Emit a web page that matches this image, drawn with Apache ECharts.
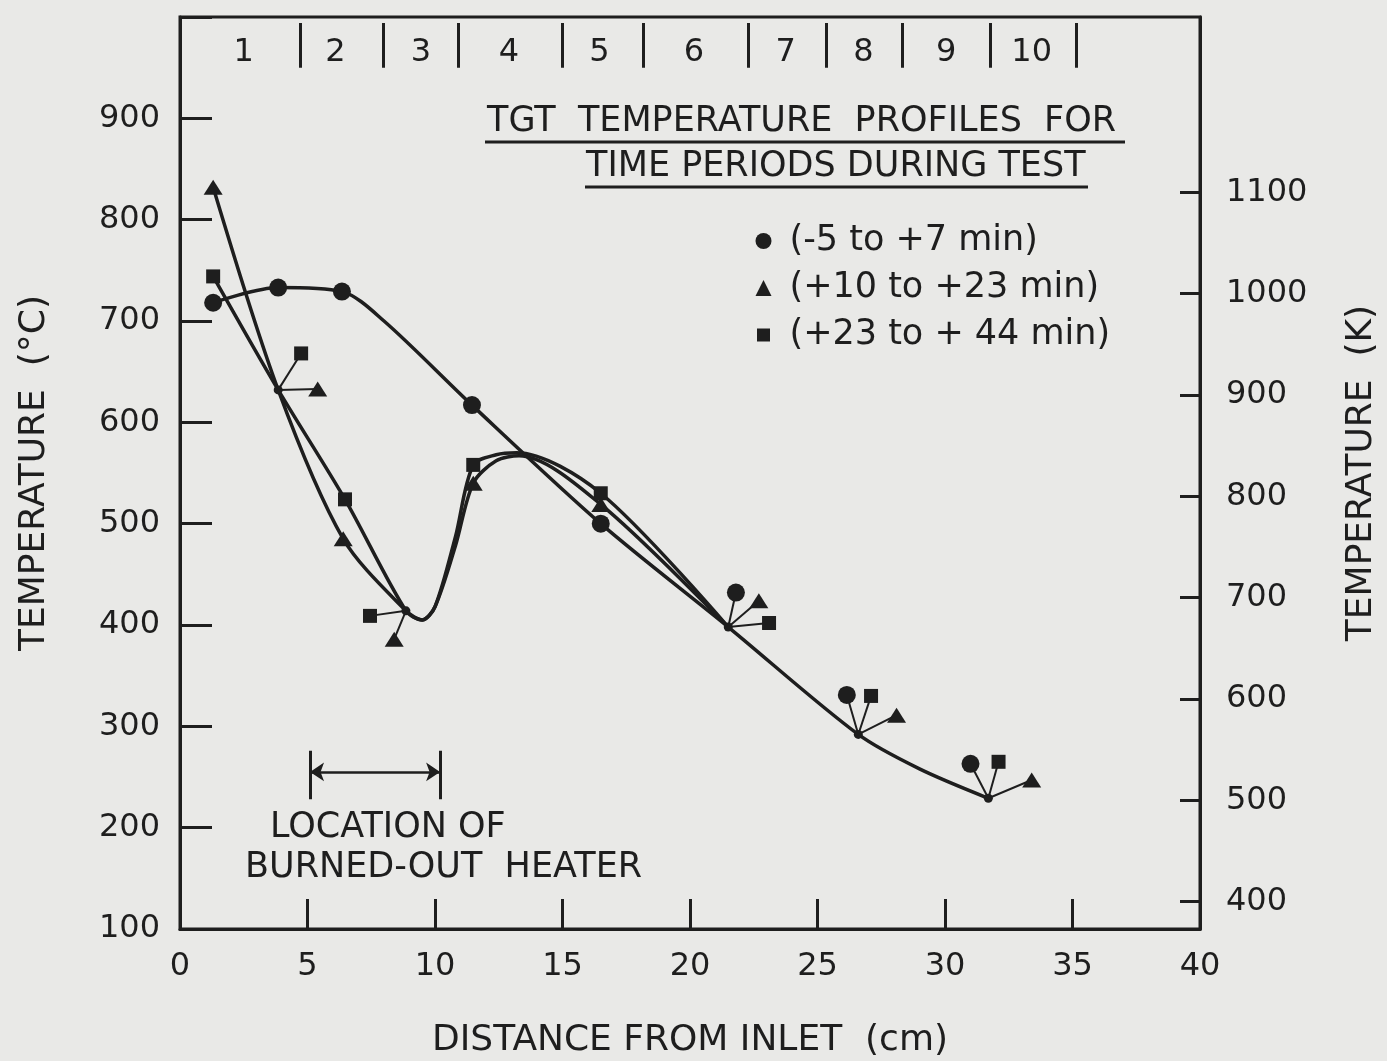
<!DOCTYPE html>
<html>
<head>
<meta charset="utf-8">
<script src="https://cdn.jsdelivr.net/npm/echarts@6/dist/echarts.min.js"></script>
<style>
  html, body { margin: 0; padding: 0; background: #e9e9e7; }
  #chart { width: 1387px; height: 1061px; }
</style>
</head>
<body>
<div id="chart"></div>
<script>
const INK = '#1e1e1e'
const FONT = "'DejaVu Sans', sans-serif"

// heater zones across the top of the plot (cm)
const zoneLabels = ['1', '2', '3', '4', '5', '6', '7', '8', '9', '10']
const zoneLabelX = [2.5, 6.1, 9.45, 12.9, 16.45, 20.15, 23.75, 26.8, 30.05, 33.4]
const zoneEdges = [4.72, 7.96, 10.92, 15.0, 18.16, 22.3, 25.33, 28.32, 31.76, 35.16]

// axis ticks
const xTicks = [0, 5, 10, 15, 20, 25, 30, 35, 40]
const kelvinTicks = [400, 500, 600, 700, 800, 900, 1000, 1100]

// series names
const names = ['(-5 to +7 min)', '(+10 to +23 min)', '(+23 to + 44 min)']

// measured points, [cm, °C]
const circlePts = [[1.3, 718], [3.85, 733], [6.35, 729], [11.45, 617], [16.5, 500]]
const trianglePts = [[1.3, 832], [6.4, 485], [11.5, 540], [16.5, 519]]
const squarePts = [[1.3, 744], [6.47, 524], [11.5, 558], [16.5, 530]]

// where several points coincide the curve gets a small dot
// and the markers are drawn beside it on short leaders
const junctions = [[3.85, 632], [8.86, 414], [21.5, 398], [26.6, 292], [31.7, 229]]
const circleShifted = [[21.8, 432], [26.15, 331], [31.0, 263]]
const circleShiftedAt = [2, 3, 4]
const triangleShifted = [[5.4, 633], [8.4, 386], [22.7, 424], [28.1, 311], [33.4, 247]]
const triangleShiftedAt = [0, 1, 2, 3, 4]
const squareShifted = [[4.75, 668], [7.45, 409], [23.1, 402], [27.1, 330], [32.1, 265]]
const squareShiftedAt = [0, 1, 2, 3, 4]

// faired curves as drawn
const circleCurve = [[1.3, 718], [3.85, 733], [6.35, 729], [8.0, 700], [11.45, 617],
  [16.5, 500], [21.5, 398], [26.6, 292], [29.0, 258], [31.7, 229]]
const triangleCurve = [[1.3, 832], [3.85, 632], [6.4, 485], [8.86, 414], [9.5, 405],
  [10.0, 418], [10.8, 478], [11.5, 540], [12.4, 562], [13.3, 567], [16.5, 519], [21.5, 398]]
const squareCurve = [[1.3, 744], [3.85, 632], [6.47, 524], [8.86, 414], [9.5, 405],
  [10.0, 418], [10.8, 487], [11.5, 558], [12.4, 568], [13.2, 570], [16.5, 530], [21.5, 398]]

// burned-out heater span (cm)
const heaterSpan = [5.1, 10.2]

const chart = echarts.init(document.getElementById('chart'))

const leaders = (pts, at) => pts.map((p, i) => ({ coords: [junctions[at[i]], p] }))

const curve = (data) => ({
  type: 'line',
  data,
  smooth: 0.3,
  showSymbol: false,
  silent: true,
  lineStyle: { color: INK, width: 3.5 },
  z: 3,
})

const txt = { fontFamily: FONT, fontSize: 32, color: INK }
const big = { ...txt, fontSize: 36 }
const mark = { color: INK, opacity: 1 }

chart.setOption({
  backgroundColor: '#e9e9e7',
  animation: false,
  textStyle: txt,
  grid: {
    left: 180, right: 187, top: 17, bottom: 132,
    outerBoundsMode: 'none',
    show: true, borderColor: INK, borderWidth: 3,
  },

  legend: {
    left: 749,
    top: 218,
    orient: 'vertical',
    selectedMode: false,
    itemWidth: 16,
    itemHeight: 16,
    itemGap: 11,
    textStyle: { ...txt, fontSize: 35, lineHeight: 36, padding: [0, 0, 0, 13] },
    data: [
      { name: names[0], icon: 'circle' },
      { name: names[1], icon: 'triangle' },
      { name: names[2], icon: 'rect', itemStyle: { borderWidth: 3, borderColor: '#e9e9e7' } },
    ],
  },

  xAxis: {
    type: 'value',
    min: 0,
    max: 40,
    interval: 5,
    name: 'DISTANCE FROM INLET  (cm)',
    nameLocation: 'middle',
    nameGap: 94,
    nameTextStyle: big,
    splitLine: { show: false },
    axisLine: { lineStyle: { color: INK, width: 3 } },
    axisTick: { inside: true, length: 30, lineStyle: { color: INK, width: 3 } },
    axisLabel: { ...txt, margin: 22, customValues: xTicks },
  },

  yAxis: [
    {
      type: 'value',
      min: 100,
      max: 1000,
      interval: 100,
      name: 'TEMPERATURE  (°C)',
      nameLocation: 'middle',
      nameGap: 127,
      nameRotate: 90,
      nameTextStyle: big,
      splitLine: { show: false },
      axisLine: { show: true, lineStyle: { color: INK, width: 3 } },
      axisTick: { inside: true, length: 32, lineStyle: { color: INK, width: 3 } },
      axisLabel: { ...txt, margin: 20, formatter: (v) => (v >= 1000 ? '' : String(v)) },
    },
    {
      type: 'value',
      position: 'right',
      min: 373,
      max: 1273,
      name: 'TEMPERATURE  (K)',
      nameLocation: 'middle',
      nameGap: 144,
      nameRotate: 90,
      nameTextStyle: big,
      splitLine: { show: false },
      axisLine: { show: true, lineStyle: { color: INK, width: 3 } },
      axisTick: { inside: true, length: 20, customValues: kelvinTicks, lineStyle: { color: INK, width: 3 } },
      axisLabel: { ...txt, margin: 26, customValues: kelvinTicks, formatter: (v) => String(v) },
    },
  ],

  graphic: [
    { type: 'text', left: 487, top: 104, style: { text: 'TGT  TEMPERATURE  PROFILES  FOR', font: `35px ${FONT}`, fill: INK } },
    { type: 'line', shape: { x1: 485, y1: 142, x2: 1125, y2: 142 }, style: { stroke: INK, lineWidth: 3 } },
    { type: 'text', left: 586, top: 149, style: { text: 'TIME PERIODS DURING TEST', font: `35px ${FONT}`, fill: INK } },
    { type: 'line', shape: { x1: 585, y1: 187, x2: 1088, y2: 187 }, style: { stroke: INK, lineWidth: 3 } },
    { type: 'text', left: 270, top: 810, style: { text: 'LOCATION OF', font: `35px ${FONT}`, fill: INK } },
    { type: 'text', left: 245, top: 850, style: { text: 'BURNED-OUT  HEATER', font: `35px ${FONT}`, fill: INK } },
  ],

  series: [
    curve(circleCurve),
    curve(triangleCurve),
    curve(squareCurve),
    {
      type: 'lines',
      coordinateSystem: 'cartesian2d',
      silent: true,
      lineStyle: { color: INK, width: 2, opacity: 1 },
      data: [
        ...leaders(circleShifted, circleShiftedAt),
        ...leaders(triangleShifted, triangleShiftedAt),
        ...leaders(squareShifted, squareShiftedAt),
      ],
      z: 2,
    },
    {
      type: 'scatter',
      data: junctions,
      symbol: 'circle',
      symbolSize: 9,
      itemStyle: mark,
      silent: true,
      z: 4,
    },
    {
      name: names[0],
      type: 'scatter',
      data: circlePts.concat(circleShifted),
      symbol: 'circle',
      symbolSize: 18,
      itemStyle: mark,
      z: 5,
    },
    {
      name: names[1],
      type: 'scatter',
      data: trianglePts.concat(triangleShifted),
      symbol: 'triangle',
      symbolSize: [19, 15],
      itemStyle: mark,
      z: 5,
    },
    {
      name: names[2],
      type: 'scatter',
      data: squarePts.concat(squareShifted),
      symbol: 'rect',
      symbolSize: 14,
      itemStyle: mark,
      z: 5,
    },
    // zone numbers and dividers in the top band
    {
      type: 'scatter',
      silent: true,
      symbolSize: 1,
      itemStyle: { opacity: 0 },
      data: zoneLabels.map((n, i) => ({ name: n, value: [zoneLabelX[i], 965] })),
      label: { show: true, position: 'inside', formatter: '{b}', ...txt, opacity: 1 },
    },
    {
      type: 'lines',
      coordinateSystem: 'cartesian2d',
      silent: true,
      lineStyle: { color: INK, width: 3, opacity: 1 },
      data: zoneEdges.map((x) => ({ coords: [[x, 950], [x, 994]] })),
    },
    // heater location arrow
    {
      type: 'lines',
      coordinateSystem: 'cartesian2d',
      silent: true,
      symbol: ['arrow', 'arrow'],
      symbolSize: 14,
      lineStyle: { color: INK, width: 2.5, opacity: 1 },
      data: [{ coords: [[heaterSpan[0], 255], [heaterSpan[1], 255]] }],
    },
    {
      type: 'lines',
      coordinateSystem: 'cartesian2d',
      silent: true,
      lineStyle: { color: INK, width: 3, opacity: 1 },
      data: heaterSpan.map((x) => ({ coords: [[x, 228], [x, 276]] })),
    },
  ],
})
</script>
</body>
</html>
